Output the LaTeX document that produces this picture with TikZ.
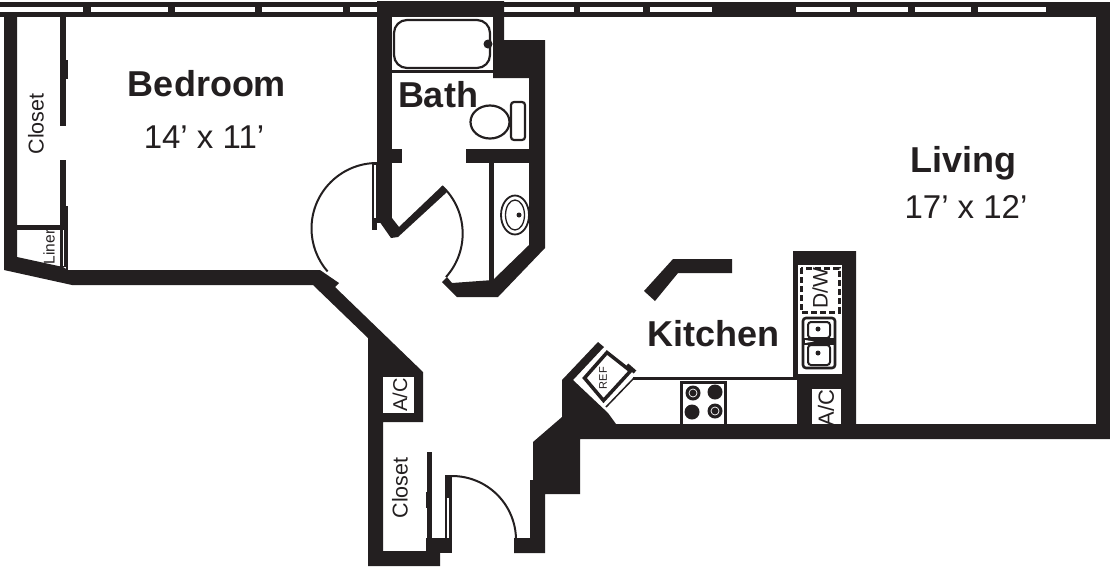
\documentclass[tikz,border=0pt]{standalone}
\usepackage{fontspec}
\setmainfont{Liberation Sans}
\definecolor{ink}{HTML}{231F20}

\begin{document}
\begin{tikzpicture}[x=1pt,y=-1pt,every node/.style={outer sep=0pt,inner sep=0pt,text=ink},
    wall/.style={fill=ink,draw=none},
    gap/.style={fill=white,draw=none},
    fixture/.style={draw=ink,line width=2.2pt,fill=white},
    swing/.style={draw=ink,line width=2pt},
    roomname/.style={font=\fontsize{36}{36}\bfseries\selectfont},
    roomsize/.style={font=\fontsize{33}{33}\selectfont},
    closetname/.style={rotate=90,font=\fontsize{21.5}{21}\selectfont},
    smallname/.style={rotate=90,font=\fontsize{20}{20}\selectfont}]

    \useasboundingbox (0,0) rectangle (1110,566);

    % outer walls
    \fill[wall] (0,2) rectangle (1110,17);
    \fill[wall] (1096,17) rectangle (1110,439);
    \fill[wall] (4,17) -- (17,17) -- (17,257) -- (63,267) -- (68,270) -- (320,270)
      -- (339,283) -- (335,287) -- (423,372) -- (423,422) -- (383,422) -- (383,551)
      -- (440,551) -- (440,566) -- (368,566) -- (368,338) -- (313,285) -- (72,285)
      -- (4,270) -- cycle;
    \fill[wall] (1110,424) -- (1110,439) -- (580,439) -- (580,494) -- (545,494)
      -- (545,553) -- (514,553) -- (514,538) -- (530,538) -- (530,480) -- (533,480)
      -- (533,442) -- (562,417) -- (562,380) -- (598,342) -- (604,347) -- (573,380)
      -- (608,413) -- (616,424) -- cycle;

    % windows
    \foreach \A/\B in {0/83,91/168,175/255,262/343,350/377,504/574,580/643,650/712,
      796/850,857/908,915/971,978/1046}
    {
        \fill[gap] (\A,7) rectangle (\B,11.5);
    }

    % bath walls
    \fill[wall] (377,1) rectangle (392,223);
    \fill[wall] (377,1) rectangle (504,17);
    \fill[wall] (493,1) -- (504,1) -- (504,40) -- (545,40) -- (545,248) -- (498,297)
      -- (457,297) -- (442,282) -- (447,277) -- (452,283) -- (493,280) -- (529,245)
      -- (529,78) -- (493,78) -- cycle;
    \fill[wall] (392,70) rectangle (493,73);
    \fill[wall] (377,149) rectangle (402,163);
    \fill[wall] (466,149) rectangle (529,163);
    \fill[wall] (489,163) rectangle (494,283);
    \fill[wall] (377,218) -- (392,218) -- (399,227) -- (442,186) -- (447,192)
      -- (398,237) -- (391,238) -- cycle;

    % closets
    \fill[wall] (60,17) rectangle (66,126);
    \fill[wall] (66,60) rectangle (68,79);
    \fill[wall] (60,160) rectangle (66,267);
    \fill[wall] (66,206) rectangle (68,270);
    \fill[wall] (17,225) rectangle (63,230);
    \fill[gap] (62.6,230) rectangle (63.4,266);
    \fill[gap] (383,377) rectangle (414,413);
    \fill[wall] (427,452) rectangle (432,538);
    \fill[wall] (426,492) rectangle (427,508);
    \fill[wall] (426,538) rectangle (452,553);

    % doors
    \fill[wall] (372,163) rectangle (377,230);
    \fill[gap] (373.5,165) rectangle (376,218);
    \fill[wall] (445,475) rectangle (452,538);
    \fill[gap] (447,498) rectangle (449,538);
    \draw[swing] (377,163) arc (-90:-221:65.5);
    \draw[swing] (442,186) arc (-47:42:65);
    \draw[swing] (452,476) arc (-90:0:64);

    % bath fixtures
    \draw[fixture,rounded corners=13pt] (394,20) rectangle (490,68);
    \fill[wall] (488,44) circle (4.5);
    \draw[fixture] (490,122) ellipse (19.5 and 16.5);
    \draw[fixture,rounded corners=3pt] (511,102) rectangle (525,140);
    \draw[fixture,line width=1.8pt] (515,215) ellipse (14 and 19.5);
    \draw[fixture,line width=1.3pt] (515,215) ellipse (9.5 and 15);
    \fill[wall] (519,215) circle (2.5);

    % kitchen counter
    \fill[wall] (644,291) -- (673,259) -- (732,259) -- (732,273) -- (678,273) -- (655,301) -- cycle;
    \fill[wall] (793,251) -- (856,251) -- (856,424) -- (797,424) -- (797,378) -- (793,378) -- cycle;
    \fill[wall] (633,377) rectangle (797,379.5);

    % refrigerator
    \draw[ink,line width=3.5pt,miter limit=2] (584.5,378) -- (607,352.5) -- (630.5,371) -- (603.5,400.5) -- cycle;
    \draw[ink,line width=4pt] (627,365) -- (635,372);
    \draw[ink,line width=1.5pt] (634,378) -- (606,407);

    % dishwasher
    \fill[gap] (798,265) rectangle (842,314);
    \draw[ink,line width=3pt,dash pattern=on 6pt off 3pt] (801,268) rectangle (839,312);

    % sink
    \fill[gap] (798,314) rectangle (842,374);
    \draw[fixture,line width=2.6pt,rounded corners=3pt] (803,318) rectangle (835,368);
    \fill[wall] (803,338) rectangle (835,345);
    \fill[gap] (805,340) -- (814,341.5) -- (805,343) -- cycle;
    \draw[fixture,line width=2pt,rounded corners=3pt] (808,322) rectangle (830,338);
    \draw[fixture,line width=2pt,rounded corners=3pt] (808,345) rectangle (830,365);
    \fill[wall] (818,329) circle (2.5);
    \fill[wall] (818,353) circle (2.5);

    % stove
    \fill[wall] (680,381) rectangle (727,424);
    \fill[gap] (683,384) rectangle (724,424);
    \foreach \X/\Y in {693/393,715/392,692/412,715/411}
    {
        \fill[wall] (\X,\Y) circle (7.5);
    }
    \foreach \X/\Y in {693/393,715/411}
    {
        \draw[white,line width=0.7pt] (\X,\Y) circle (4);
    }

    % A/C beside the kitchen
    \fill[gap] (812,389) rectangle (841,424);
    \node[rotate=90,font=\fontsize{22}{22}\selectfont] (ackitchen) at (826,408) {A/C};
    \fill[wall] (812,424) rectangle (841,432);

    % labels
    \node[roomname] (bedroom) at (207,84) {Bedroom};
    \node[roomsize] (bedroomsize) at (204,137) {14' x 11'};
    \node[roomname] (bath) at (438,95) {Bath};
    \node[roomname] (living) at (963,163) {Living};
    \node[roomsize] (livingsize) at (966,207) {17' x 12'};
    \node[roomname] (kitchen) at (713.5,334) {Kitchen};
    \node[closetname] (closetleft) at (36,124) {Closet};
    \node[closetname] (closetentry) at (400,488) {Closet};
    \node[smallname] (acentry) at (400,395) {A/C};
    \node[rotate=90,font=\fontsize{21}{21}\selectfont] (dw) at (820,288) {D/W};
    \node[rotate=90,font=\fontsize{15.5}{16}\selectfont] (liner) at (49,247) {Liner};
    \node[rotate=90,font=\fontsize{11}{11}\selectfont] (ref) at (603,378) {REF};
\end{tikzpicture}
\end{document}
